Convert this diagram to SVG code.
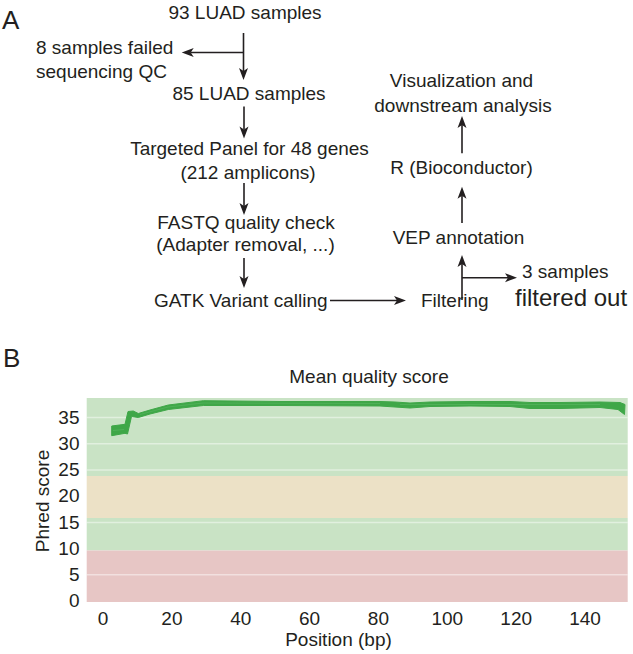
<svg xmlns="http://www.w3.org/2000/svg" width="633" height="654" viewBox="0 0 633 654">
<style>
text{font-family:"Liberation Sans",Arial,Helvetica,sans-serif;fill:#231f20;font-size:19px}
.m{text-anchor:middle}
.e{text-anchor:end}
.lab{font-size:26px}
.big{font-size:24px}
.con line{stroke:#231f20;stroke-width:1.6;fill:none}
.arr{marker-end:url(#ah)}
.grid{stroke:#ffffff;stroke-opacity:0.45;stroke-width:1.5}
</style>
<defs>
<marker id="ah" markerUnits="userSpaceOnUse" markerWidth="14" markerHeight="12" refX="3" refY="0" viewBox="0 -6 14 12" orient="auto" overflow="visible">
<path d="M0,-4.5 L12,0 L0,4.5 L3,0 Z" fill="#231f20"/>
</marker>
</defs>
<rect width="633" height="654" fill="#ffffff"/>

<text x="2" y="28.5" class="lab">A</text>

<g id="n93"><text x="245" y="18.5" class="m">93 LUAD samples</text></g>
<g id="failed"><text x="36" y="53.5">8 samples failed</text><text x="36" y="77.5">sequencing QC</text></g>
<g id="n85"><text x="249" y="99.5" class="m">85 LUAD samples</text></g>
<g id="panel"><text x="249.5" y="155" class="m">Targeted Panel for 48 genes</text><text x="248" y="178.5" class="m">(212 amplicons)</text></g>
<g id="fastq"><text x="246" y="228.5" class="m">FASTQ quality check</text><text x="245.5" y="251" class="m">(Adapter removal, ...)</text></g>
<g id="gatk"><text x="154" y="306.5">GATK Variant calling</text></g>
<g id="filtering"><text x="421" y="306.5">Filtering</text></g>
<g id="filteredout"><text x="522" y="278">3 samples</text><text x="515" y="305.5" class="big">filtered out</text></g>
<g id="vep"><text x="458.5" y="244" class="m">VEP annotation</text></g>
<g id="r"><text x="461.5" y="173.5" class="m">R (Bioconductor)</text></g>
<g id="vis"><text x="461.5" y="86.7" class="m">Visualization and</text><text x="463" y="111.5" class="m">downstream analysis</text></g>

<g id="connectors" class="con">
<line x1="243.5" y1="33" x2="243.5" y2="71" class="arr"/>
<line x1="243.5" y1="52.5" x2="190.7" y2="52.5" class="arr"/>
<line x1="244" y1="106.5" x2="244" y2="129.5" class="arr"/>
<line x1="244" y1="183" x2="244" y2="206" class="arr"/>
<line x1="244" y1="258" x2="244" y2="279" class="arr"/>
<line x1="330" y1="300.5" x2="397" y2="300.5" class="arr"/>
<line x1="462" y1="300" x2="462" y2="264" class="arr"/>
<line x1="462" y1="277.7" x2="508" y2="277.7" class="arr"/>
<line x1="462" y1="223" x2="462" y2="195.7" class="arr"/>
<line x1="462" y1="153.3" x2="462" y2="125" class="arr"/>
</g>

<text x="3" y="367" class="lab">B</text>

<g id="chart">
<text x="369" y="383" class="m">Mean quality score</text>
<rect x="86.7" y="398" width="541" height="78" fill="#c9e3c5"/>
<rect x="86.7" y="476" width="541" height="42" fill="#ece1c6"/>
<rect x="86.7" y="518" width="541" height="32.5" fill="#c9e3c5"/>
<rect x="86.7" y="550.5" width="541" height="51.5" fill="#e7c6c5"/>
<line class="grid" x1="86.7" x2="627.7" y1="417.6" y2="417.6"/>
<line class="grid" x1="86.7" x2="627.7" y1="443.8" y2="443.8"/>
<line class="grid" x1="86.7" x2="627.7" y1="470" y2="470"/>
<line class="grid" x1="86.7" x2="627.7" y1="522.4" y2="522.4"/>
<line class="grid" x1="86.7" x2="627.7" y1="574.8" y2="574.8"/>

<path d="M111.7,426 L125,424.3 L128,411.5 L133.3,411 L138.3,413.5 L150,410 L168.3,405 L203.3,400.7 L280,401.5 L330,401.5 L380,401.5 L395,402 L410,403 L430,402 L470,401.5 L510,401.5 L530,402.5 L560,402.5 L600,402 L620,402.5 L625,404.5 L624.5,414.5 L618,409.5 L600,407.5 L560,408.5 L530,408.5 L510,406.5 L470,406 L430,406.5 L410,408 L395,407 L380,406 L280,405.5 L203.3,405.5 L168.3,409.5 L150,414 L138.3,417.5 L131.5,416.5 L127.5,434 L125,433.3 L111.7,435.7 Z" fill="#3fa748" stroke="#3fa748" stroke-width="1" stroke-linejoin="round"/>
<path d="M113,430.5 L124,429.5 M140,414.5 L168,407 L203,403 L380,403.5 M400,404.5 L600,404.5" fill="none" stroke="#5cb864" stroke-width="0.8" stroke-opacity="0.7"/>

<g class="e">
<text x="79.5" y="423.8">35</text>
<text x="79.5" y="450">30</text>
<text x="79.5" y="476.2">25</text>
<text x="79.5" y="502.4">20</text>
<text x="79.5" y="528.6">15</text>
<text x="79.5" y="554.8">10</text>
<text x="79.5" y="581">5</text>
<text x="79.5" y="607.2">0</text>
</g>
<g class="m">
<text x="103" y="625">0</text>
<text x="171.9" y="625">20</text>
<text x="240.7" y="625">40</text>
<text x="309.6" y="625">60</text>
<text x="378.4" y="625">80</text>
<text x="447.3" y="625">100</text>
<text x="516.2" y="625">120</text>
<text x="585" y="625">140</text>
</g>
<text x="338.5" y="646" class="m">Position (bp)</text>
<text transform="translate(48.5,501) rotate(-90)" class="m">Phred score</text>
</g>
</svg>
